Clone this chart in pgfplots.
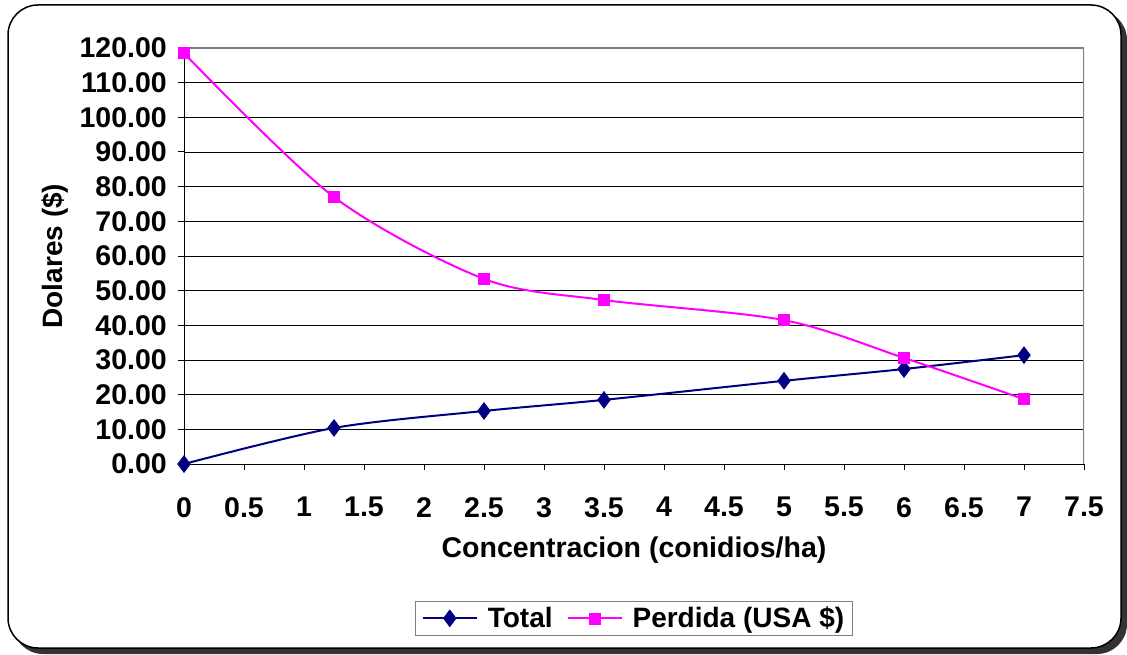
\documentclass[border=0pt]{standalone}
\usepackage{fontspec}
\setmainfont{Liberation Sans}
\usepackage{pgfplots}
\pgfplotsset{compat=1.18}
\definecolor{navyc}{RGB}{0,0,128}
\definecolor{magc}{RGB}{255,0,255}
\begin{document}
\begin{tikzpicture}
\useasboundingbox (0pt,0pt) rectangle (1127pt,654pt);
\fill[black!80, rounded corners=30pt] (13pt,0pt) rectangle (1127pt,644pt);
\filldraw[fill=white, draw=black, line width=1.5pt, rounded corners=30pt] (8pt,6pt) rectangle (1121pt,649pt);
\begin{axis}[
  at={(184pt,190pt)}, anchor=south west,
  width=900pt, height=416pt, scale only axis,
  xmin=0, xmax=7.5, ymin=0, ymax=120,
  axis x line=bottom, axis y line=left,
  axis line style={-, black, line width=1pt},
  xtick={0,0.5,1,1.5,2,2.5,3,3.5,4,4.5,5,5.5,6,6.5,7,7.5},
  xticklabels={0,0.5,1,1.5,2,2.5,3,3.5,4,4.5,5,5.5,6,6.5,7,7.5},
  ytick={0,10,20,30,40,50,60,70,80,90,100,110,120},
  yticklabels={0.00,10.00,20.00,30.00,40.00,50.00,60.00,70.00,80.00,90.00,100.00,110.00,120.00},
  tick align=outside, major tick length=6pt,
  tick style={black, line width=1pt},
  ymajorgrids, grid style={black, line width=0.9pt},
  ticklabel style={font=\fontsize{28.5}{32}\selectfont\bfseries},
  yticklabel style={inner sep=0pt, xshift=-11pt},
  xticklabel style={inner sep=0pt, yshift=-27pt},
  xlabel={Concentracion (conidios/ha)},
  ylabel={Dolares (\$)},
  every axis x label/.style={at={(axis description cs:0.5,0)}, anchor=center, yshift=-86pt, font=\fontsize{28.5}{32}\selectfont\bfseries},
  every axis y label/.style={at={(axis description cs:-0.1433,0.5)}, anchor=center, rotate=90, font=\fontsize{28}{32}\selectfont\bfseries},
  legend columns=2,
  legend style={at={(0.5,-0.371)}, anchor=center, draw=gray, line width=1pt,
    font=\fontsize{28}{32}\selectfont\bfseries, inner xsep=6pt, inner ysep=4pt,
    /tikz/every odd column/.append style={column sep=8pt},
    /tikz/every even column/.append style={column sep=12pt}},
  legend image code/.code={\draw[mark repeat=2,mark phase=2,#1] plot coordinates {(0pt,0pt) (27pt,0pt) (54pt,0pt)};},
]
\addplot[navyc, line width=2pt, smooth, tension=0.5, mark=diamond*, mark size=8.5pt, mark options={fill=navyc, draw=navyc, line width=0.5pt}]
  coordinates {(0,0) (1.25,10.4) (2.5,15.3) (3.5,18.5) (5,24.0) (6,27.4) (7,31.4)};
\addlegendentry{Total}
\addplot[magc, line width=2pt, smooth, tension=0.5, mark=square*, mark size=5.5pt, mark options={fill=magc, draw=magc, line width=0.5pt}]
  coordinates {(0,118.5) (1.25,77.0) (2.5,53.4) (3.5,47.3) (5,41.5) (6,30.6) (7,18.7)};
\addlegendentry{Perdida (USA \$)}
\draw[gray, line width=1.5pt] (axis cs:0,120) -- (axis cs:7.5,120) -- (axis cs:7.5,0);
\end{axis}
\end{tikzpicture}
\end{document}
